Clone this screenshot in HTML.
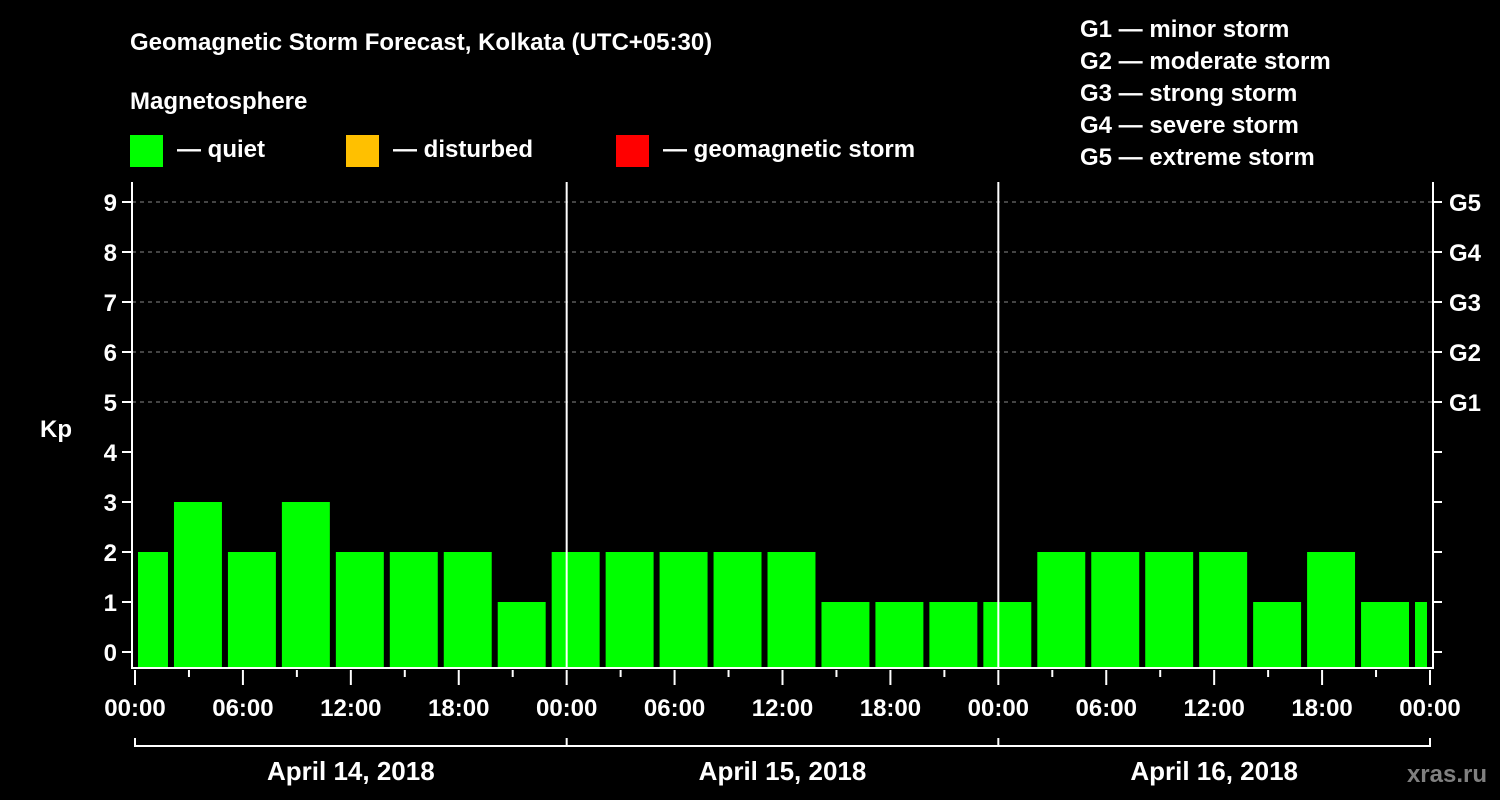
<!DOCTYPE html>
<html><head><meta charset="utf-8"><style>
body{margin:0;background:#000;}
svg{display:block;font-family:"Liberation Sans",Arial,sans-serif;font-weight:bold;}
</style></head><body>
<svg id="chart" width="1500" height="800" viewBox="0 0 1500 800">
<rect width="1500" height="800" fill="#000"/>
<text x="130" y="50" fill="#fff" font-size="24">Geomagnetic Storm Forecast, Kolkata (UTC+05:30)</text>
<text x="130" y="109" fill="#fff" font-size="24">Magnetosphere</text>
<g><rect x="130" y="135" width="33" height="32" fill="#00ff00"/><text x="177" y="157" fill="#fff" font-size="24">— quiet</text></g>
<g><rect x="346" y="135" width="33" height="32" fill="#ffc000"/><text x="393" y="157" fill="#fff" font-size="24">— disturbed</text></g>
<g><rect x="616" y="135" width="33" height="32" fill="#ff0000"/><text x="663" y="157" fill="#fff" font-size="24">— geomagnetic storm</text></g>
<g fill="#fff" font-size="24">
<text x="1080" y="37">G1 — minor storm</text>
<text x="1080" y="69">G2 — moderate storm</text>
<text x="1080" y="101">G3 — strong storm</text>
<text x="1080" y="133">G4 — severe storm</text>
<text x="1080" y="165">G5 — extreme storm</text>
</g>
<text x="40" y="437" fill="#fff" font-size="24">Kp</text>
<text x="1487" y="782" fill="#808080" font-size="24" text-anchor="end">xras.ru</text>
<g id="grid"></g><g id="bars"></g><g id="axes"></g>
</svg>
<script>
const kpValues=[2,3,2,3,2,2,2,1,2,2,2,2,2,1,1,1,1,2,2,2,2,1,2,1,1];
const binStartHours=[0,2,5,8,11,14,17,20,23,26,29,32,35,38,41,44,47,50,53,56,59,62,65,68,71];
const binEndHours=[2,5,8,11,14,17,20,23,26,29,32,35,38,41,44,47,50,53,56,59,62,65,68,71,72];
const yTicks=[0,1,2,3,4,5,6,7,8,9];
const gLabels=["G1","G2","G3","G4","G5"];
const xTickLabels=["00:00","06:00","12:00","18:00","00:00","06:00","12:00","18:00","00:00","06:00","12:00","18:00","00:00"];
const dayLabels=["April 14, 2018","April 15, 2018","April 16, 2018"];
const NS="http://www.w3.org/2000/svg";
const X=h=>135+h*(1295/72);
const Y=v=>652-50*v;
const B=668,L=132,R=1433,T=182;
function mk(tag,attrs,parent,text){const e=document.createElementNS(NS,tag);for(const k in attrs)e.setAttribute(k,attrs[k]);if(text!==undefined)e.textContent=text;document.getElementById(parent).appendChild(e);return e;}
// grid
for(let v=5;v<=9;v++){const e=mk('line',{x1:L,x2:R,y1:Y(v),y2:Y(v),stroke:'#888','stroke-dasharray':'4,4','stroke-width':1},'grid');

}
// bars
kpValues.forEach((v,i)=>{const x0=Math.max(X(binStartHours[i])+3,136),x1=Math.min(X(binEndHours[i])-3,1428);
const c=v>=5?'#ff0000':(v>=4?'#ffc000':'#00ff00');
const e=mk('rect',{x:x0,y:Y(v),width:x1-x0,height:B-Y(v),fill:c},'bars');

});
// axes
const st={stroke:'#fff','stroke-width':2};
mk('line',Object.assign({x1:L,x2:L,y1:T,y2:B+1},st),'axes');
mk('line',Object.assign({x1:R,x2:R,y1:T,y2:B+1},st),'axes');
mk('line',Object.assign({x1:L,x2:R,y1:B,y2:B},st),'axes');
[24,48].forEach(h=>{const e=mk('line',Object.assign({x1:X(h),x2:X(h),y1:T,y2:B},st),'axes');

});
yTicks.forEach(v=>{mk('line',Object.assign({x1:122,x2:L,y1:Y(v),y2:Y(v)},st),'axes');
mk('line',Object.assign({x1:R,x2:1442,y1:Y(v),y2:Y(v)},st),'axes');
const t=mk('text',{x:117,y:Y(v)+9,fill:'#fff','font-size':24,'text-anchor':'end'},'axes',String(v));

});
gLabels.forEach((g,i)=>{const t=mk('text',{x:1449,y:Y(5+i)+9,fill:'#fff','font-size':24},'axes',g);

});
for(let h=0;h<=72;h+=3){const major=h%6===0;mk('line',Object.assign({x1:X(h),x2:X(h),y1:B+2,y2:major?685:677},st),'axes');}
xTickLabels.forEach((s,i)=>{const t=mk('text',{x:X(i*6),y:716,fill:'#fff','font-size':24,'text-anchor':'middle'},'axes',s);

});
mk('polyline',{points:`${X(0)},738 ${X(0)},746 ${X(72)},746 ${X(72)},738`,fill:'none',stroke:'#fff','stroke-width':2},'axes');
[24,48].forEach(h=>mk('line',Object.assign({x1:X(h),x2:X(h),y1:738,y2:746},st),'axes'));
dayLabels.forEach((s,i)=>{const t=mk('text',{x:X(i*24+12),y:780,fill:'#fff','font-size':26,'text-anchor':'middle'},'axes',s);

});
</script>
</body></html>
